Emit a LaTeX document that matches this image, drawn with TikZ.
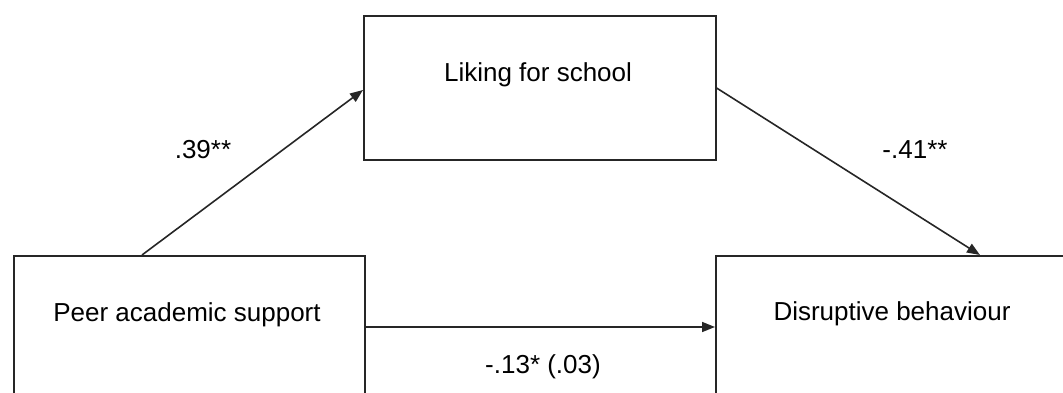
\documentclass[tikz,border=0pt]{standalone}
\usepackage{fontspec}
\setmainfont{Liberation Sans}
\usetikzlibrary{arrows.meta,calc}

\tikzset{
  varbox/.style={draw=black!85, line width=1.6bp, rectangle, inner sep=0pt,
                 anchor=north west, fill=white},
  path/.style={draw=black!85, line width=1.6bp,
               -{Triangle[length=13bp,width=10bp]}},
  txt/.style={anchor=base, inner sep=0pt,
              font=\fontsize{26bp}{30bp}\selectfont}
}

\begin{document}
\begin{tikzpicture}[x=1bp,y=1bp]
  \useasboundingbox (0,0) rectangle (1063,392);
  \clip (0,0) rectangle (1063,392);

  % variable boxes (the lower two run past the page edge)
  \node[varbox, minimum width=351bp, minimum height=200bp] (lb) at (13,137) {};
  \node[varbox, minimum width=352bp, minimum height=144bp] (tb) at (363,377) {};
  \node[varbox, minimum width=400bp, minimum height=200bp] (rb) at (715,137) {};

  % box labels
  \node[txt] (lbt) at (187,71)  {Peer academic support};
  \node[txt] (tbt) at (538,311) {Liking for school};
  \node[txt] (rbt) at (892,72)  {Disruptive behaviour};

  % path end points
  \coordinate (a1) at ($(lb.north west)+(129,0)$);
  \coordinate (a2) at ($(tb.north west)+(0,-75)$);
  \coordinate (b1) at ($(tb.north east)+(0,-73)$);
  \coordinate (b2) at ($(rb.north west)+(265,0)$);
  \coordinate (c1) at ($(lb.north east)+(0,-72)$);
  \coordinate (c2) at (rb.west |- c1);

  % paths
  \draw[path] (a1) -- (a2);
  \draw[path] (b1) -- (b2);
  \draw[path] (c1) -- (c2);

  % coefficients
  \node[txt] (ca) at (203,234) {.39**};
  \node[txt] (cb) at (915,234) {-.41**};
  \node[txt] (cc) at (543,19)  {-.13* (.03)};
\end{tikzpicture}
\end{document}
